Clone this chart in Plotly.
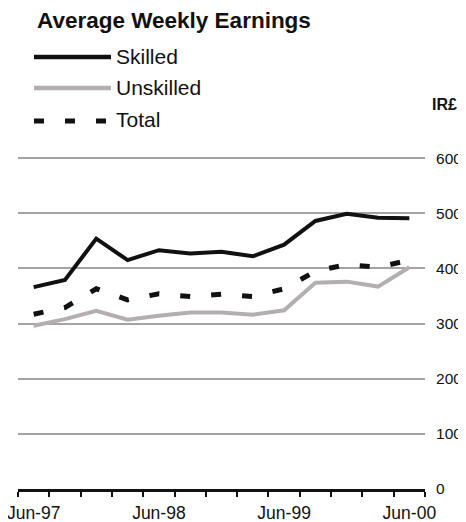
import plotly.graph_objects as go

categories = ["Jun-97", "Sep-97", "Dec-97", "Mar-98", "Jun-98", "Sep-98", "Dec-98",
              "Mar-99", "Jun-99", "Sep-99", "Dec-99", "Mar-00", "Jun-00"]
skilled = [366, 379, 454, 415, 433, 427, 430, 422, 443, 486, 499, 492, 491]
unskilled = [296, 308, 323, 307, 314, 320, 320, 316, 324, 374, 376, 367, 402]
total = [317, 329, 363, 343, 354, 349, 353, 349, 363, 395, 407, 402, 415]
tick_labels = ["Jun-97", "Jun-98", "Jun-99", "Jun-00"]
y_ticks = [0, 100, 200, 300, 400, 500, 600]

# The page body has a default 8px margin, so the figure is drawn 8px in from
# the top-left corner of the window; size it so that it fills the window.
OFF = 8
WIN_W, WIN_H = 466, 522
W, H = WIN_W - OFF, WIN_H - OFF
# plot area in window pixels: x 18..425, y 157..489
ML, MR, MT, MB = 18 - OFF, WIN_W - 425, 157 - OFF, WIN_H - 489
PW, PH = W - ML - MR, H - MT - MB

def px(x):
    return (x - OFF - ML) / PW

def py(y):
    return (H - MB - (y - OFF)) / PH

FONT = "Liberation Sans, Arial, sans-serif"
idx = list(range(len(categories)))
tick_idx = [categories.index(t) for t in tick_labels]
GREY_LINE = "#b3aeb0"

fig = go.Figure()
fig.add_trace(go.Scatter(x=idx, y=unskilled, mode="lines", name="Unskilled",
                         line=dict(color=GREY_LINE, width=4), hoverinfo="skip"))
fig.add_trace(go.Scatter(x=idx, y=total, mode="lines", name="Total",
                         line=dict(color="#111111", width=5, dash="10px,21px"), hoverinfo="skip"))
fig.add_trace(go.Scatter(x=idx, y=skilled, mode="lines", name="Skilled",
                         line=dict(color="#111111", width=4), hoverinfo="skip"))

# manual legend
legend_items = [("Skilled", dict(color="#111111", width=4.5), 57),
                ("Unskilled", dict(color=GREY_LINE, width=4.5), 88),
                ("Total", dict(color="#111111", width=5, dash="10px,21px"), 121)]
shapes = []
annotations = []
for name, ln, yy in legend_items:
    shapes.append(dict(type="line", xref="paper", yref="paper",
                       x0=px(34), x1=px(111), y0=py(yy), y1=py(yy), line=ln))
    annotations.append(dict(text=name, xref="paper", yref="paper", x=px(114), y=py(yy - 1),
                            xanchor="left", yanchor="middle", showarrow=False,
                            font=dict(family=FONT, size=21, color="#111111")))

annotations.append(dict(text="<b>Average Weekly Earnings</b>", xref="paper", yref="paper",
                        x=px(35), y=py(20), xanchor="left", yanchor="middle", showarrow=False,
                        font=dict(family=FONT, size=22.5, color="#111111")))
annotations.append(dict(text="<b>IR£</b>", xref="paper", yref="paper",
                        x=px(430), y=py(104), xanchor="left", yanchor="middle", showarrow=False,
                        font=dict(family=FONT, size=16, color="#111111")))

fig.update_layout(
    width=W, height=H,
    margin=dict(l=ML, r=MR, t=MT, b=MB, pad=0, autoexpand=False),
    paper_bgcolor="white", plot_bgcolor="white",
    showlegend=False,
    font=dict(family=FONT, color="#111111"),
    shapes=shapes, annotations=annotations,
    xaxis=dict(range=[-0.5, len(categories) - 0.5], tickmode="array",
               tickvals=tick_idx, ticktext=tick_labels, automargin=False,
               ticklabeloverflow="allow",
               ticks="outside", ticklen=6, tickcolor="rgba(0,0,0,0)",
               showgrid=False, zeroline=False,
               showline=True, linecolor="#111111", linewidth=2.5,
               tickfont=dict(size=17.5, color="#111111"),
               minor=dict(tickvals=[i - 0.5 for i in range(len(categories) + 1)],
                          ticks="outside", ticklen=5, tickwidth=2, tickcolor="#111111",
                          showgrid=False)),
    yaxis=dict(range=[0, 602], side="right", tickmode="array", tickvals=y_ticks,
               automargin=False, ticklabeloverflow="allow",
               ticks="outside", ticklen=7, tickcolor="rgba(0,0,0,0)",
               showgrid=True, gridcolor="#a6a2a4", gridwidth=2,
               zeroline=False, showline=False,
               tickfont=dict(size=15.5, color="#111111")),
)

fig.write_html("out.html")
